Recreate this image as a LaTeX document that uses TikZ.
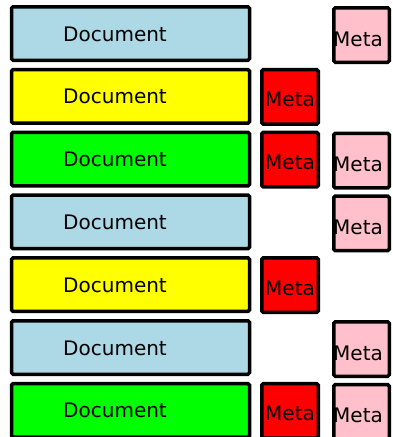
\documentclass[tikz,border=0pt]{standalone}
\usepackage{fontspec}
\setmainfont{DejaVu Sans}
\definecolor{docblue}{HTML}{ADD8E6}
\definecolor{docyellow}{HTML}{FFFF00}
\definecolor{docgreen}{HTML}{00FF00}
\definecolor{metared}{HTML}{FF0000}
\definecolor{metapink}{HTML}{FFC0CB}
\tikzset{
  box/.style={draw=black, line width=3.5pt, rounded corners=1.5pt},
  lbl/.style={anchor=base west, inner sep=0pt, font=\fontsize{20}{24}\selectfont, text=black},
}
\begin{document}
\begin{tikzpicture}[x=1pt, y=-1pt]
\useasboundingbox (0,0) rectangle (393,437);
\begin{scope}
\clip (0,0) rectangle (393,437);
% row index / document colour / red meta? / pink meta?
\foreach \i/\col/\red/\pink in {0/docblue/0/1, 1/docyellow/1/0, 2/docgreen/1/1,
                                3/docblue/0/1, 4/docyellow/1/0, 5/docblue/0/1,
                                6/docgreen/1/1} {
  \pgfmathsetmacro{\t}{5+62.8*\i}
  \draw[box, fill=\col] (11.5,\t+1.75) rectangle (249.5,\t+55.25);
  \node[lbl] (doc\i) at (63,\t+36) {Document};
  \ifnum\red=1
    \draw[box, fill=metared] (261.75,\t+1.75) rectangle (318.25,\t+56.25);
    \node[lbl] (red\i) at (265,\t+39) {Meta};
  \fi
  \ifnum\pink=1
    \draw[box, fill=metapink] (333.75,\t+2.75) rectangle (389.25,\t+57.25);
    \node[lbl] (pink\i) at (333,\t+41) {Meta};
  \fi
}
\end{scope}
\end{tikzpicture}
\end{document}
